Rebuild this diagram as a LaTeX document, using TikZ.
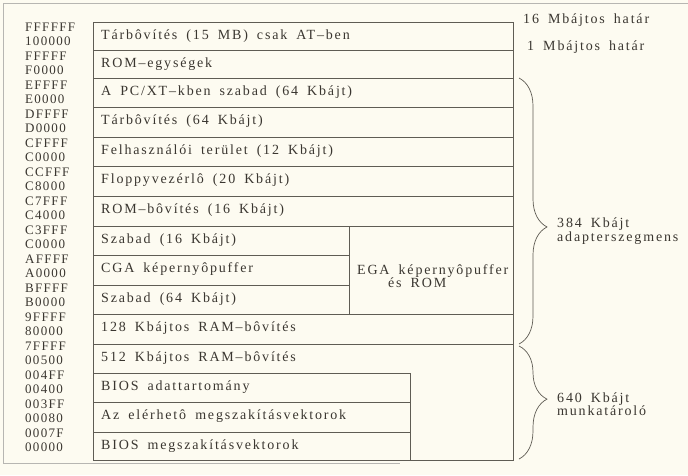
\documentclass[tikz,border=0pt]{standalone}
\usepackage{fontspec}
\setmainfont[LetterSpace=13,WordSpace=1.7]{Liberation Serif}
\newfontfamily\addrfont[LetterSpace=10]{Liberation Serif}
\usetikzlibrary{positioning, decorations.pathreplacing}
\definecolor{paper}{RGB}{253,251,241}
\definecolor{ink}{RGB}{58,54,48}
\definecolor{rule}{RGB}{95,92,84}
\tikzset{
	rowtext/.style={anchor=west, inner sep=0pt, text=ink, font=\fontsize{14}{13.5}\selectfont}
}
\tikzset{
	addrtext/.style={anchor=west, align=left, inner sep=0pt, text=ink, font=\addrfont\fontsize{13}{13.5}\selectfont}
}
\tikzset{
	mapline/.style={draw=rule, line width=0.7pt},
	membrace/.style={draw=rule, line width=0.7pt, decorate, decoration={brace, amplitude=28pt, aspect=#1}}
}

\begin{document}
\begin{tikzpicture}[x=1pt, y=-1pt]
      \useasboundingbox[fill=paper] (0,0) rectangle (688,475);
      % page edge of the scan
      \draw[draw=rule!45, line width=0.6pt] (688,3) -- (3,3) -- (3,463) -- (400,463);
      % memory map
      \draw[mapline] (93,22) rectangle (513,460);
      \foreach \ya/\xr/\txt/\hi/\lo [count=\i] in {
          22/513/{Tárbôvítés (15 MB) csak AT–ben}/FFFFFF/100000,
          50/513/{ROM–egységek}/FFFFF/F0000,
          78/513/{A PC/XT–kben szabad (64 Kbájt)}/EFFFF/E0000,
          107/513/{Tárbôvítés (64 Kbájt)}/DFFFF/D0000,
          137/513/{Felhasználói terület (12 Kbájt)}/CFFFF/C0000,
          166/513/{Floppyvezérlô (20 Kbájt)}/CCFFF/C8000,
          196/513/{ROM–bôvítés (16 Kbájt)}/C7FFF/C4000,
          226/513/{Szabad (16 Kbájt)}/C3FFF/C0000,
          255/349/{CGA képernyôpuffer}/AFFFF/A0000,
          285/349/{Szabad (64 Kbájt)}/BFFFF/B0000,
          314/513/{128 Kbájtos RAM–bôvítés}/9FFFF/80000,
          344/513/{512 Kbájtos RAM–bôvítés}/7FFFF/00500,
          373/410/{BIOS adattartomány}/004FF/00400,
          402/410/{Az elérhetô megszakításvektorok}/003FF/00080,
          432/410/{BIOS megszakításvektorok}/0007F/00000}
      {
        \draw[mapline] (93,\ya) -- (\xr,\ya);
        \node[rowtext] (row\i) at (101,\ya+14.5) {\txt};
        \node[addrtext] (addr\i) at (25,5.3+29*\i) {\hi\\\lo};
      }
      \draw[mapline] (349,226) -- (349,314);
      \draw[mapline] (410,373) -- (410,460);
      \node[rowtext, align=left] (ega) at (357,276) {EGA képernyôpuffer\\\hspace*{31pt}és ROM};
      % limits
      \node[rowtext] (lim16) at (523,20) {16 Mbájtos határ};
      \node[rowtext] (lim1) at (527,47) {1 Mbájtos határ};
      % segments
      \draw[membrace=0.56] (519,78) -- (519,344);
      \draw[membrace=0.47] (519,346) -- (519,459);
      \node[rowtext, align=left] (adapter) at (557,231) {384 Kbájt\\adapterszegmens};
      \node[rowtext, align=left] (work) at (557,404) {640 Kbájt\\munkatároló};
    \end{tikzpicture}
\end{document}
